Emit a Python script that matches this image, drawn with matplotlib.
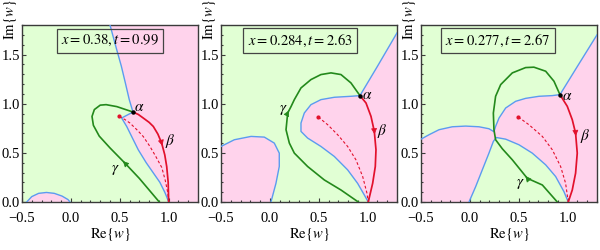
import numpy as np
import matplotlib
matplotlib.use("Agg")
import matplotlib.pyplot as plt
from matplotlib.ticker import MultipleLocator, FuncFormatter

plt.rcParams['font.family'] = ['Liberation Serif', 'DejaVu Serif']
plt.rcParams['mathtext.fontset'] = 'stix'
plt.rcParams['font.size'] = 10.5

PINK = '#FFD3EC'
LGREEN = '#E1FFD4'
BLUE = '#5B9BF0'
GREEN = '#23891B'
RED = '#E2102C'
FRAME = '#3A3A3A'

titles = [r'$x = 0.38, t = 0.99$', r'$x = 0.284, t = 2.63$', r'$x = 0.277, t = 2.67$']
title_pos = [(0.40, 1.64), (0.308, 1.64), (0.284, 1.64)]

# ---------------- panel 1 ----------------
p1_blue_top = [(0.40, 1.80), (0.468, 1.551), (0.516, 1.381), (0.557, 1.211), (0.597, 1.041), (0.635, 0.915)]
p1_blue_low = [(0.635, 0.915), (0.519, 0.854), (0.571, 0.768), (0.638, 0.633), (0.689, 0.531),
               (0.77, 0.40), (0.84, 0.30), (0.91, 0.20), (0.96, 0.10), (0.985, 0.04), (1.0, 0.0)]
p1_bump = [(-0.452, 0.0), (-0.40, 0.055), (-0.33, 0.088), (-0.25, 0.097), (-0.17, 0.088),
           (-0.09, 0.06), (-0.03, 0.025), (-0.009, 0.0)]
p1_gamma = [(0.904, 0.0), (0.70, 0.24), (0.553, 0.395), (0.40, 0.55), (0.29, 0.67), (0.23, 0.78),
            (0.216, 0.87), (0.24, 0.94), (0.30, 0.985), (0.36, 0.99), (0.47, 0.97), (0.635, 0.915)]
p1_beta = [(0.635, 0.915), (0.69, 0.89), (0.74, 0.854), (0.80, 0.81), (0.843, 0.768), (0.89, 0.69),
           (0.928, 0.60), (0.96, 0.48), (0.98, 0.36), (0.995, 0.20), (1.0, 0.0)]
p1_dash = [(0.495, 0.871), (0.55, 0.84), (0.604, 0.803), (0.68, 0.73), (0.74, 0.666), (0.809, 0.564),
           (0.87, 0.46), (0.93, 0.35), (0.965, 0.22), (0.99, 0.10), (1.0, 0.0)]
p1_labels = [(0.695, 0.956), (1.013, 0.616), (0.451, 0.327)]

# ---------------- panel 2 ----------------
p2_blue_top = [(0.921, 1.082), (1.10, 1.38), (1.30, 1.72)]
p2_blue_loop = [(0.921, 1.082), (0.829, 1.075), (0.659, 1.065), (0.522, 1.041), (0.420, 0.99),
                (0.352, 0.905), (0.318, 0.803), (0.318, 0.718), (0.386, 0.65), (0.522, 0.565),
                (0.659, 0.463), (0.795, 0.327), (0.897, 0.19), (0.966, 0.071), (1.006, 0.0)]
p2_blue_left = [(-0.5, 0.565), (-0.364, 0.633), (-0.193, 0.667), (-0.057, 0.66), (0.045, 0.599),
                (0.096, 0.497), (0.096, 0.361), (0.062, 0.19), (0.011, 0.0)]
p2_gamma = [(0.904, 0.0), (0.727, 0.122), (0.557, 0.224), (0.386, 0.361), (0.250, 0.497),
            (0.199, 0.599), (0.165, 0.735), (0.182, 0.905), (0.216, 0.97), (0.25, 1.041),
            (0.318, 1.16), (0.42, 1.245), (0.522, 1.296), (0.625, 1.313), (0.727, 1.296),
            (0.829, 1.211), (0.921, 1.082)]
p2_beta = [(0.921, 1.082), (0.983, 1.007), (1.034, 0.871), (1.068, 0.718), (1.085, 0.531),
           (1.078, 0.361), (1.051, 0.19), (1.006, 0.0)]
p2_dash = [(0.495, 0.864), (0.591, 0.786), (0.693, 0.684), (0.795, 0.565), (0.880, 0.429),
           (0.949, 0.259), (0.993, 0.088), (1.006, 0.0)]
p2_labels = [(0.993, 1.082), (1.153, 0.718), (0.141, 0.939)]

# ---------------- panel 3 ----------------
p3_blue_top = [(0.921, 1.092), (1.10, 1.38), (1.30, 1.70)]
p3_blue_up = [(0.921, 1.092), (0.843, 1.082), (0.707, 1.075), (0.570, 1.054), (0.468, 1.024),
              (0.366, 0.956), (0.298, 0.854), (0.263, 0.769), (0.246, 0.715),
              (0.195, 0.745), (0.093, 0.765), (-0.043, 0.772), (-0.18, 0.765), (-0.316, 0.735),
              (-0.418, 0.684), (-0.5, 0.639)]
p3_blue_low = [(-0.009, 0.0), (0.059, 0.156), (0.127, 0.327), (0.195, 0.497), (0.240, 0.616),
               (0.270, 0.656), (0.366, 0.639), (0.502, 0.582), (0.638, 0.497), (0.775, 0.378),
               (0.877, 0.259), (0.962, 0.105), (1.006, 0.0)]
p3_gamma = [(0.894, 0.0), (0.741, 0.173), (0.587, 0.241), (0.434, 0.429), (0.332, 0.541),
            (0.263, 0.633), (0.246, 0.735), (0.24, 0.905), (0.263, 1.075), (0.315, 1.194),
            (0.434, 1.313), (0.570, 1.367), (0.655, 1.371), (0.775, 1.33), (0.86, 1.228),
            (0.921, 1.092)]
p3_beta = [(0.921, 1.092), (0.996, 0.973), (1.047, 0.837), (1.081, 0.70), (1.098, 0.497),
           (1.081, 0.293), (1.047, 0.122), (1.006, 0.0)]
p3_dash = [(0.495, 0.864), (0.604, 0.786), (0.741, 0.667), (0.843, 0.531), (0.928, 0.361),
           (0.979, 0.19), (1.006, 0.0)]
p3_labels = [(0.99, 1.075), (1.184, 0.667), (0.52, 0.185)]

XLIM = (-0.5, 1.3)
YLIM = (0.0, 1.8)

fig = plt.figure(figsize=(6, 2.5), dpi=100)
lefts = [22, 221, 421]
axes = [fig.add_axes([l / 600, 48 / 250, 176 / 600, 177 / 250]) for l in lefts]


def A(pts):
    return np.array(pts, dtype=float)


def style(ax, title, tpos):
    ax.set_xlim(*XLIM)
    ax.set_ylim(*YLIM)
    ax.set_facecolor(LGREEN)
    ax.xaxis.set_major_locator(MultipleLocator(0.5))
    ax.yaxis.set_major_locator(MultipleLocator(0.5))
    ax.xaxis.set_minor_locator(MultipleLocator(0.1))
    ax.yaxis.set_minor_locator(MultipleLocator(0.1))
    fmt = FuncFormatter(lambda v, p: ('%.1f' % v).replace('-', '\u2212'))
    ax.xaxis.set_major_formatter(fmt)
    ax.yaxis.set_major_formatter(fmt)
    ax.tick_params(which='both', direction='in', color=FRAME, width=0.8)
    ax.tick_params(which='major', length=3)
    ax.tick_params(which='minor', length=1.5)
    ax.tick_params(axis='x', pad=7)
    ax.tick_params(axis='y', pad=1.5)
    for s in ax.spines.values():
        s.set_color(FRAME)
        s.set_linewidth(1.0)
    ax.set_xlabel(r'$\mathrm{Re}\{w\}$', labelpad=1)
    ax.set_ylabel(r'$\mathrm{Im}\{w\}$')
    ax.yaxis.set_label_coords(-0.015, 1.03)
    ax.text(tpos[0], tpos[1], title, ha='center', va='center', fontsize=10.5, zorder=10,
            bbox=dict(boxstyle='square,pad=0.3', facecolor='none', edgecolor='#444444', lw=0.9))


def arrow_on(ax, pts, i, color):
    p = A(pts)
    a, b = p[i], p[i + 1]
    d = b - a
    d = d / np.hypot(*d)
    ax.annotate('', xy=a + 0.03 * d, xytext=a - 0.01 * d,
                arrowprops=dict(arrowstyle='-|>', color=color, lw=0.5, mutation_scale=9,
                                shrinkA=0, shrinkB=0), zorder=6)


def curves(ax, gamma, beta, dash, labels, g_arrow, b_arrow):
    g, b, d = A(gamma), A(beta), A(dash)
    ax.plot(g[:, 0], g[:, 1], color=GREEN, lw=1.2, zorder=4)
    ax.plot(b[:, 0], b[:, 1], color=RED, lw=1.25, zorder=5)
    ax.plot(d[:, 0], d[:, 1], color=RED, lw=0.8, ls=(0, (2.5, 2)), zorder=5)
    ax.plot(d[0, 0], d[0, 1], 'o', color=RED, ms=2, zorder=6)
    ax.plot(b[0, 0], b[0, 1], 'o', color='black', ms=2.2, zorder=7)
    arrow_on(ax, gamma, g_arrow, GREEN)
    arrow_on(ax, beta, b_arrow, RED)
    for (x, y), s in zip(labels, [r'$\alpha$', r'$\beta$', r'$\gamma$']):
        ax.text(x, y, s, ha='center', va='center', fontsize=11, zorder=8)


# panel 1
ax = axes[0]
top, low, bump = A(p1_blue_top), A(p1_blue_low), A(p1_bump)
poly = np.vstack([top, low[1:], [[XLIM[1], 0], [XLIM[1], YLIM[1]]]])
ax.fill(poly[:, 0], poly[:, 1], color=PINK, lw=0, zorder=1)
ax.fill(bump[:, 0], bump[:, 1], color=PINK, lw=0, zorder=1)
for arr in (top, low, bump):
    ax.plot(arr[:, 0], arr[:, 1], color=BLUE, lw=1.0, zorder=3)
curves(ax, p1_gamma, p1_beta, p1_dash, p1_labels, 2, 6)
style(ax, titles[0], title_pos[0])

# panel 2
ax = axes[1]
top, loop, left = A(p2_blue_top), A(p2_blue_loop), A(p2_blue_left)
poly = np.vstack([top[::-1], loop[1:], [[XLIM[1], 0]]])
ax.fill(poly[:, 0], poly[:, 1], color=PINK, lw=0, zorder=1)
poly = np.vstack([left, [[XLIM[0], 0]]])
ax.fill(poly[:, 0], poly[:, 1], color=PINK, lw=0, zorder=1)
for arr in (top, loop, left):
    ax.plot(arr[:, 0], arr[:, 1], color=BLUE, lw=1.0, zorder=3)
curves(ax, p2_gamma, p2_beta, p2_dash, p2_labels, 7, 3)
style(ax, titles[1], title_pos[1])

# panel 3
ax = axes[2]
top, up, low = A(p3_blue_top), A(p3_blue_up), A(p3_blue_low)
poly = np.vstack([[[XLIM[0], 0]], low, [[XLIM[1], 0]], top[::-1], up[1:]])
ax.fill(poly[:, 0], poly[:, 1], color=PINK, lw=0, zorder=1)
for arr in (top, up, low):
    ax.plot(arr[:, 0], arr[:, 1], color=BLUE, lw=1.0, zorder=3)
curves(ax, p3_gamma, p3_beta, p3_dash, p3_labels, 2, 3)
style(ax, titles[2], title_pos[2])

fig.savefig('out.png', dpi=100)
